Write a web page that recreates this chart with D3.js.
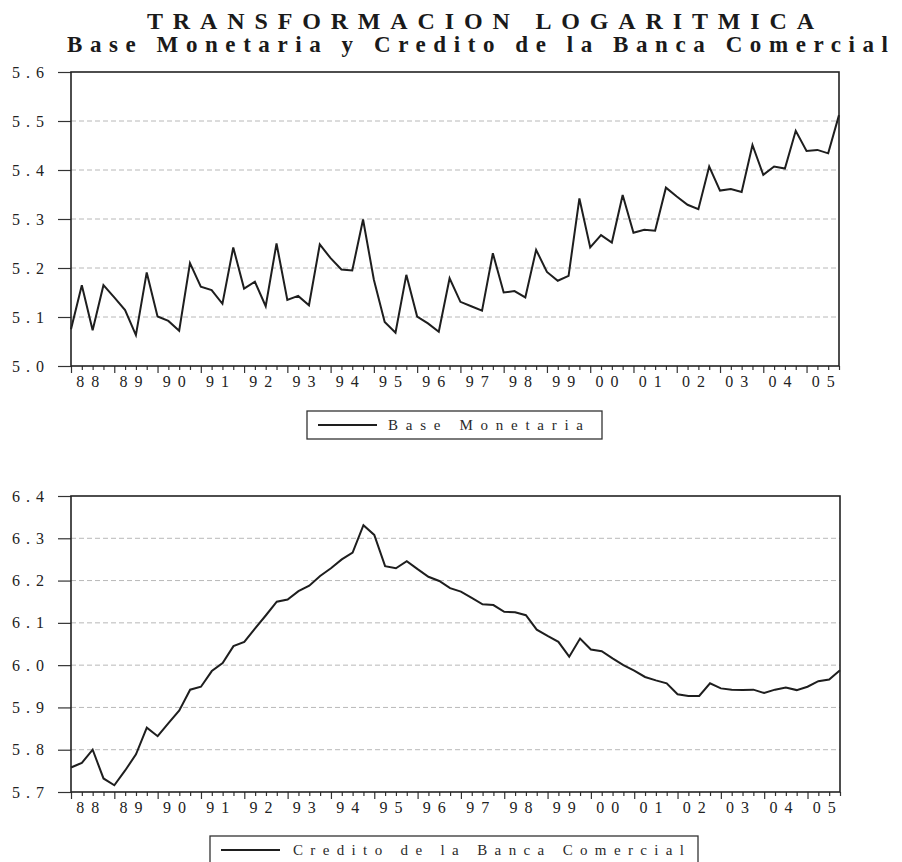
<!DOCTYPE html>
<html>
<head>
<meta charset="utf-8">
<script src="https://cdn.jsdelivr.net/npm/d3@7"></script>
<style>
  html, body { margin: 0; padding: 0; background: #fff; }
  svg { display: block; }
  text { font-family: "Liberation Serif", "Times New Roman", serif; fill: #2a2a2a; }
</style>
</head>
<body>
<svg id="chart" width="902" height="862"></svg>
<script>
// ---------------- DATA ----------------
const titleLine1 = "TRANSFORMACION LOGARITMICA";
const titleLine2 = "Base Monetaria y Credito de la Banca Comercial";
const yearLabels = ["88","89","90","91","92","93","94","95","96","97","98","99","00","01","02","03","04","05"];
const quarterNames = ["Q1","Q2","Q3","Q4"];
const seriesNames = ["Base Monetaria", "Credito de la Banca Comercial"];
const baseTicks = [5.0, 5.1, 5.2, 5.3, 5.4, 5.5, 5.6];
const creditoTicks = [5.7, 5.8, 5.9, 6.0, 6.1, 6.2, 6.3, 6.4];

const baseMonetaria = [
  5.075, 5.165, 5.073, 5.165,  5.140, 5.114, 5.063, 5.191,
  5.101, 5.092, 5.072, 5.210,  5.162, 5.155, 5.127, 5.242,
  5.158, 5.172, 5.122, 5.250,  5.135, 5.143, 5.124, 5.248,
  5.220, 5.197, 5.195, 5.299,  5.176, 5.090, 5.068, 5.186,
  5.101, 5.087, 5.070, 5.179,  5.131, 5.122, 5.113, 5.230,
  5.150, 5.153, 5.140, 5.237,  5.192, 5.174, 5.184, 5.342,
  5.242, 5.267, 5.252, 5.349,  5.272, 5.278, 5.276, 5.364,
  5.346, 5.329, 5.320, 5.407,  5.358, 5.361, 5.355, 5.451,
  5.390, 5.407, 5.403, 5.480,  5.439, 5.441, 5.434, 5.512
];
const creditoBanca = [
  5.758, 5.769, 5.800, 5.732,  5.716, 5.751, 5.789, 5.852,
  5.832, 5.863, 5.893, 5.942,  5.949, 5.986, 6.005, 6.045,
  6.055, 6.087, 6.118, 6.150,  6.155, 6.175, 6.188, 6.211,
  6.229, 6.250, 6.266, 6.331,  6.308, 6.234, 6.229, 6.246,
  6.227, 6.209, 6.199, 6.182,  6.174, 6.159, 6.144, 6.142,
  6.126, 6.125, 6.118, 6.084,  6.069, 6.055, 6.020, 6.063,
  6.037, 6.033, 6.016, 6.000,  5.987, 5.972, 5.964, 5.957,
  5.931, 5.927, 5.927, 5.957,  5.945, 5.942, 5.941, 5.942,
  5.934, 5.942, 5.947, 5.941,  5.949, 5.962, 5.966, 5.988
];

// quarterly categories built from the year labels
const quarters = [];
yearLabels.forEach(y => quarterNames.forEach(q => quarters.push(y + q)));

// ---------------- DRAW ----------------
const svg = d3.select("#chart");

svg.append("text").attr("x", 147).attr("y", 29)
  .attr("textLength", 667).attr("lengthAdjust", "spacing")
  .style("font-size", "24px").style("font-weight", "bold").style("fill", "#1a1a1a")
  .text(titleLine1);
svg.append("text").attr("x", 67).attr("y", 52)
  .attr("textLength", 821).attr("lengthAdjust", "spacing")
  .style("font-size", "23px").style("font-weight", "bold").style("fill", "#1a1a1a")
  .text(titleLine2);

function panel(cfg) {
  const x = d3.scaleLinear().domain([0, quarters.length - 1]).range([cfg.left, cfg.right]);
  const y = d3.scaleLinear().domain([cfg.ticks[0], cfg.ticks[cfg.ticks.length - 1]]).range([cfg.bottom, cfg.top]);
  const g = svg.append("g");

  // gridlines
  g.append("g").selectAll("line")
    .data(cfg.ticks.slice(1, -1)).join("line")
    .attr("x1", cfg.left).attr("x2", cfg.right)
    .attr("y1", d => y(d)).attr("y2", d => y(d))
    .attr("stroke", "#b8b8b8").attr("stroke-width", 1)
    .attr("stroke-dasharray", "5,3");

  // y axis (outer ticks + labels)
  const ya = g.append("g").attr("transform", `translate(${cfg.left},0)`)
    .call(d3.axisLeft(y).tickValues(cfg.ticks).tickSize(13).tickPadding(14)
      .tickFormat(d3.format(".1f")));
  ya.select(".domain").remove();
  ya.selectAll(".tick line").attr("stroke", "#333").attr("stroke-width", 1.2);
  ya.selectAll(".tick text")
    .attr("textLength", 32).attr("lengthAdjust", "spacing")
    .style("font-family", "'Liberation Serif', serif").style("font-size", "16px").style("fill", "#222");

  // x axis ticks (every quarter, longer at each year start)
  const xa = g.append("g").attr("transform", `translate(0,${cfg.bottom})`)
    .call(d3.axisBottom(x).tickValues(d3.range(quarters.length)).tickSize(4).tickFormat(""));
  xa.select(".domain").remove();
  xa.selectAll(".tick line").attr("stroke", "#333").attr("stroke-width", 1.2)
    .attr("y2", d => d % 4 === 0 ? 7 : 4);

  // year labels centred on each year's quarters
  const yearCenters = yearLabels.map((_, k) => k * 4 + 1.5);
  const xl = g.append("g").attr("transform", `translate(0,${cfg.bottom})`)
    .call(d3.axisBottom(x).tickValues(yearCenters).tickSize(0).tickPadding(10)
      .tickFormat((d, k) => yearLabels[k]));
  xl.select(".domain").remove();
  xl.selectAll(".tick text")
    .attr("textLength", 23).attr("lengthAdjust", "spacing")
    .style("font-family", "'Liberation Serif', serif").style("font-size", "16px").style("fill", "#222");

  // series line
  g.append("path").datum(cfg.values)
    .attr("fill", "none").attr("stroke", "#1e1e1e").attr("stroke-width", 2)
    .attr("stroke-linejoin", "miter")
    .attr("d", d3.line().x((d, i) => x(i)).y(d => y(d)));

  // frame
  g.append("rect").attr("x", cfg.left).attr("y", cfg.top)
    .attr("width", cfg.right - cfg.left).attr("height", cfg.bottom - cfg.top)
    .attr("fill", "none").attr("stroke", "#222").attr("stroke-width", 1.6);

  // legend
  const L = cfg.legend;
  const lg = svg.append("g");
  lg.append("rect").attr("x", L.x).attr("y", L.y).attr("width", L.w).attr("height", 28)
    .attr("fill", "none").attr("stroke", "#333").attr("stroke-width", 1.3);
  lg.append("line").attr("x1", L.x + 11).attr("x2", L.x + 70)
    .attr("y1", L.y + 14).attr("y2", L.y + 14)
    .attr("stroke", "#1e1e1e").attr("stroke-width", 2);
  lg.append("text").attr("x", L.tx).attr("y", L.y + 19)
    .attr("textLength", L.tw).attr("lengthAdjust", "spacing")
    .style("font-size", "15px").style("fill", "#2a2a2a")
    .text(cfg.name);
}

panel({
  values: baseMonetaria, ticks: baseTicks, name: seriesNames[0],
  left: 71, right: 839, top: 72, bottom: 366,
  legend: { x: 307, y: 411, w: 295, tx: 388, tw: 195 }
});
panel({
  values: creditoBanca, ticks: creditoTicks, name: seriesNames[1],
  left: 71, right: 840, top: 496, bottom: 792,
  legend: { x: 210, y: 836, w: 488, tx: 293, tw: 391 }
});
</script>
</body>
</html>
